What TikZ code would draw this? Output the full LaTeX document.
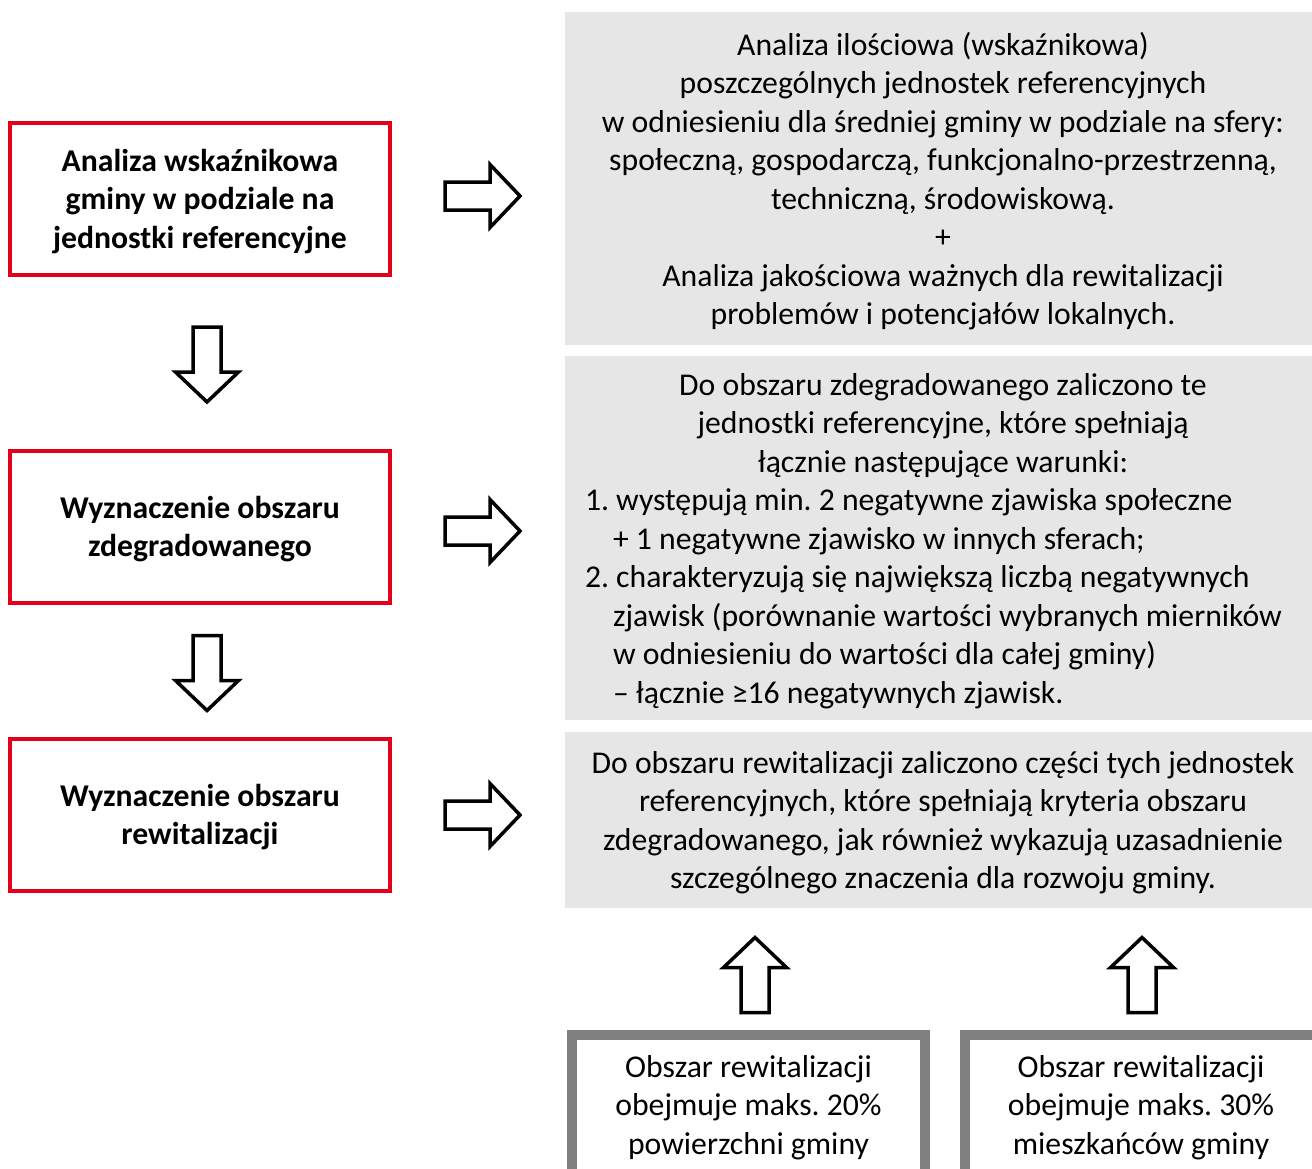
\documentclass[tikz,border=0pt]{standalone}
\usepackage{fontspec}
\setmainfont{Carlito}
\definecolor{czerwony}{RGB}{226,0,26}
\definecolor{szary}{RGB}{230,230,230}
\definecolor{ramka}{RGB}{128,128,128}
\tikzset{
  krok/.style={draw=czerwony, line width=4pt, minimum width=380pt, minimum height=152pt, align=center, text depth=0pt, font=\bfseries},
  opis/.style={fill=szary, minimum width=756pt, align=center, text depth=0pt, inner sep=0pt},
  warunek/.style={draw=ramka, fill=white, line width=10pt, minimum width=353pt, minimum height=145pt, align=center},
  strzalka/.pic={\draw[line width=3.5pt, fill=white] (-37.5,-14) -- (7.5,-14) -- (7.5,-31.5) -- (37.5,0) -- (7.5,31.5) -- (7.5,14) -- (-37.5,14) -- cycle;}
}
\begin{document}
\frenchspacing
\fontsize{31.7}{38.5}\selectfont
\begin{tikzpicture}[x=1pt, y=-1pt]
      \useasboundingbox (0,0) rectangle (1312,1168);
      % kroki
      \node[krok] (analiza) at (200,198.5) {Analiza wskaźnikowa\\gminy w podziale na\\jednostki referencyjne};
      \node[krok] (zdegr) at (200,526.5) {Wyznaczenie obszaru\\zdegradowanego};
      \node[krok, text depth=-6pt] (rewit) at (200,814.5) {Wyznaczenie obszaru\\rewitalizacji};
      % opisy
      \node[opis, minimum height=333pt] (opisA) at (943,178.5) {Analiza ilościowa (wskaźnikowa)\\poszczególnych jednostek referencyjnych\\w odniesieniu dla średniej gminy w podziale na sfery:\\społeczną, gospodarczą, funkcjonalno-przestrzenną,\\techniczną, środowiskową.\\+\\Analiza jakościowa ważnych dla rewitalizacji\\problemów i potencjałów lokalnych.};
      \node[opis, minimum height=364pt] (opisB) at (943,538) {Do obszaru zdegradowanego zaliczono te\\jednostki referencyjne, które spełniają\\łącznie następujące warunki:\\
        \makebox[716pt][l]{1. występują min. 2 negatywne zjawiska społeczne}\\
        \makebox[716pt][l]{\hspace*{28pt}+ 1 negatywne zjawisko w innych sferach;}\\
        \makebox[716pt][l]{2. charakteryzują się największą liczbą negatywnych}\\
        \makebox[716pt][l]{\hspace*{28pt}zjawisk (porównanie wartości wybranych mierników}\\
        \makebox[716pt][l]{\hspace*{28pt}w odniesieniu do wartości dla całej gminy)}\\
        \makebox[716pt][l]{\hspace*{28pt}– łącznie ≥16 negatywnych zjawisk.}};
      \node[opis, minimum height=176pt] (opisC) at (943,820) {Do obszaru rewitalizacji zaliczono części tych jednostek\\referencyjnych, które spełniają kryteria obszaru\\zdegradowanego, jak również wykazują uzasadnienie\\szczególnego znaczenia dla rozwoju gminy.};
      % warunki
      \node[warunek] (powierzchnia) at (748.5,1107.5) {Obszar rewitalizacji\\obejmuje maks. 20\%\\powierzchni gminy};
      \node[warunek] (mieszkancy) at (1141,1107.5) {Obszar rewitalizacji\\obejmuje maks. 30\%\\mieszkańców gminy};
      % strzalki
      \pic at (482.5,196) {strzalka};
      \pic at (482.5,531) {strzalka};
      \pic at (482.5,815) {strzalka};
      \pic[rotate=-90] at (207,364.5) {strzalka};
      \pic[rotate=-90] at (207,673) {strzalka};
      \pic[rotate=90] at (755,975) {strzalka};
      \pic[rotate=90] at (1142,975) {strzalka};
    \end{tikzpicture}
\end{document}
